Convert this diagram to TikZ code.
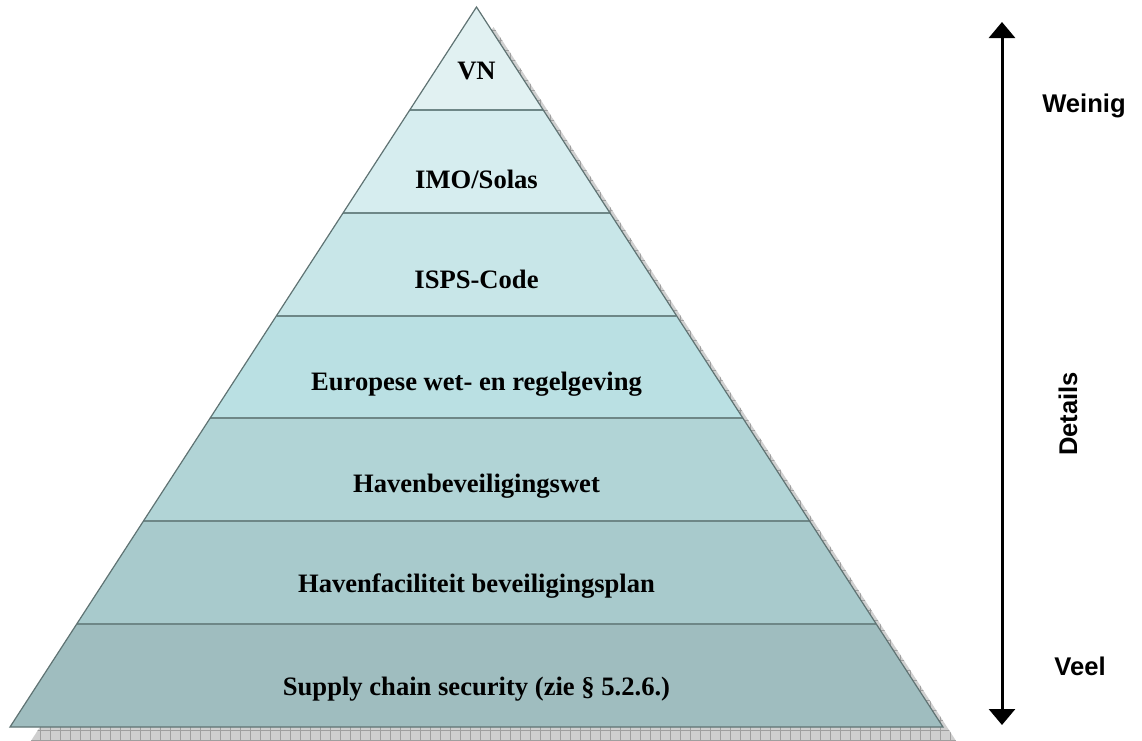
\documentclass[tikz,border=0pt]{standalone}
\usepackage{fontspec}
\setmainfont{Liberation Serif}
\setsansfont{Liberation Sans}
\usetikzlibrary{arrows.meta}
\definecolor{layerA}{HTML}{E1F1F2}
\definecolor{layerB}{HTML}{D6EDEF}
\definecolor{layerC}{HTML}{C8E6E8}
\definecolor{layerD}{HTML}{BAE0E3}
\definecolor{layerE}{HTML}{B1D4D6}
\definecolor{layerF}{HTML}{A8CACC}
\definecolor{layerG}{HTML}{9FBDBF}
\definecolor{sepline}{HTML}{6E8787}
\definecolor{rimline}{HTML}{5F7373}
\begin{document}
\begin{tikzpicture}[x=0.5pt,y=-0.5pt]
    \tikzstyle{layertext}=[font=\bfseries\fontsize{13.3}{16}\selectfont,anchor=base,inner sep=0pt]
    \tikzstyle{sidetext}=[font=\sffamily\bfseries\fontsize{12.8}{15}\selectfont,anchor=base,inner sep=0pt]
    \tikzstyle{divider}=[sepline,line width=1pt]
    \clip (0,0) rectangle (1142,740);
    \coordinate (apex) at (476.5,7);
    \coordinate (l1) at (409.9,109.9); \coordinate (r1) at (543.1,109.9);
    \coordinate (l2) at (343.2,212.7); \coordinate (r2) at (609.8,212.7);
    \coordinate (l3) at (276.6,315.6); \coordinate (r3) at (676.4,315.6);
    \coordinate (l4) at (209.9,418.4); \coordinate (r4) at (743.1,418.4);
    \coordinate (l5) at (143.3,521.3); \coordinate (r5) at (809.7,521.3);
    \coordinate (l6) at (76.6,624.1);  \coordinate (r6) at (876.4,624.1);
    \coordinate (l7) at (10,727);      \coordinate (r7) at (943,727);
    % shadow
    \begin{scope}
        \clip (493.5,27) -- (960,747) -- (27,747) -- cycle;
        \fill[gray!38] (0,0) rectangle (1142,760);
        \draw[gray!75,line width=0.3pt,step=5pt] (0,0) grid (1142,760);
    \end{scope}
    % layers
    \fill[layerA] (apex) -- (r1) -- (l1) -- cycle;
    \fill[layerB] (l1) -- (r1) -- (r2) -- (l2) -- cycle;
    \fill[layerC] (l2) -- (r2) -- (r3) -- (l3) -- cycle;
    \fill[layerD] (l3) -- (r3) -- (r4) -- (l4) -- cycle;
    \fill[layerE] (l4) -- (r4) -- (r5) -- (l5) -- cycle;
    \fill[layerF] (l5) -- (r5) -- (r6) -- (l6) -- cycle;
    \fill[layerG] (l6) -- (r6) -- (r7) -- (l7) -- cycle;
    \draw[divider] (l1) -- (r1);
    \draw[divider] (l2) -- (r2);
    \draw[divider] (l3) -- (r3);
    \draw[divider] (l4) -- (r4);
    \draw[divider] (l5) -- (r5);
    \draw[divider] (l6) -- (r6);
    \draw[rimline,line width=0.6pt] (apex) -- (r7) -- (l7) -- cycle;
    \node (vn)[layertext]       at (476.5,79)  {VN};
    \node (imo)[layertext]      at (476.5,188) {IMO/Solas};
    \node (isps)[layertext]     at (476.5,288) {ISPS-Code};
    \node (europa)[layertext]   at (476.5,390) {Europese wet- en regelgeving};
    \node (hbwet)[layertext]    at (476.5,492) {Havenbeveiligingswet};
    \node (hfplan)[layertext]   at (476.5,592) {Havenfaciliteit beveiligingsplan};
    \node (supply)[layertext]   at (476.5,695) {Supply chain security (zie § 5.2.6.)};
    % scale arrow
    \coordinate (top) at (1002,22);
    \coordinate (bottom) at (1002,725);
    \draw [{Triangle[width=13pt,length=8pt]}-{Triangle[width=13pt,length=8pt]}, line width=1.5pt] (top) -- (bottom);
    \node (weinig)[sidetext] at (1084,112) {Weinig};
    \node (veel)[sidetext]   at (1080,675) {Veel};
    \node (details)[sidetext,anchor=center,rotate=90] at (1068,414) {Details};
\end{tikzpicture}
\end{document}
